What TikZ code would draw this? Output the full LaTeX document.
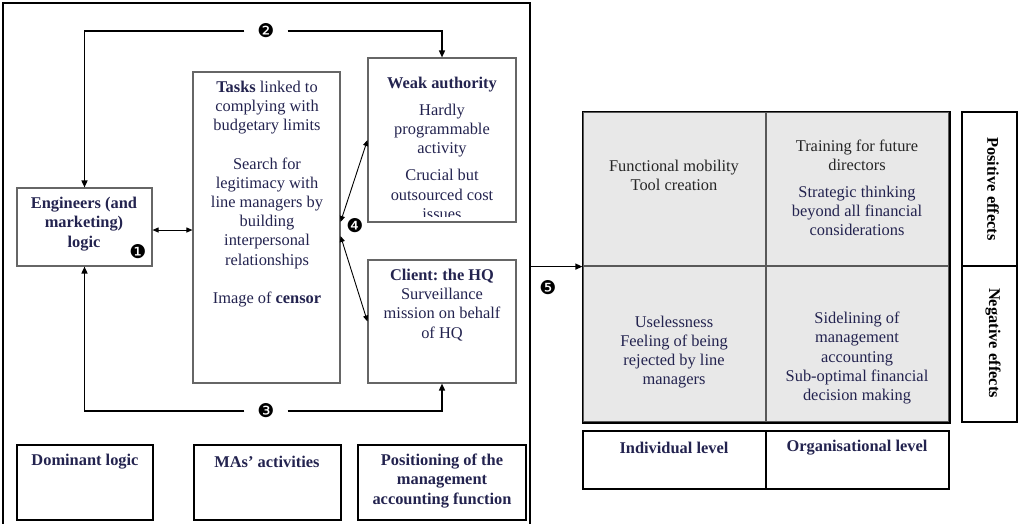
\documentclass[tikz,border=0pt]{standalone}
\usepackage{fontspec}
\setmainfont{Liberation Serif}
\newfontfamily\dingfont{DejaVu Sans}
\usepackage{tikz}
\usetikzlibrary{arrows.meta,calc}
\definecolor{navy}{HTML}{23234F}
\definecolor{cellgray}{HTML}{E8E8E8}
\frenchspacing

\begin{document}
\begin{tikzpicture}[
    x=1pt, y=-1pt,
    box/.style={draw=black!60, line width=1.1pt, inner sep=0pt},
    heavybox/.style={draw=black, line width=1.8pt, inner sep=0pt},
    cell/.style={draw=black!65, line width=1.2pt, fill=cellgray, inner sep=0pt},
    txt/.style={text=navy, align=center, inner sep=0pt, font=\fontsize{16.4}{19.2}\selectfont},
    num/.style={inner sep=3pt, font=\dingfont\fontsize{19}{19}\selectfont},
    link/.style={line width=1.5pt, -{Triangle[length=7pt,width=6pt]}},
    thinlink/.style={line width=0.9pt, {Triangle[length=6pt,width=5pt]}-{Triangle[length=6pt,width=5pt]}}
]
    \useasboundingbox (0,0) rectangle (1023,523);

    % --- Left panel ---
    \node[draw=black, line width=2.2pt, minimum width=527pt, minimum height=524pt] (frame) at (266.5,265) {};
    \node[box, minimum width=135pt, minimum height=78pt] (eng) at (84.5,227) {};
    \node[box, minimum width=147pt, minimum height=311pt] (tasks) at (266.5,227.5) {};
    \node[box, minimum width=148pt, minimum height=164pt] (weak) at (442,140) {};
    \node[box, minimum width=148pt, minimum height=123pt] (client) at (442,321.5) {};

    \node[txt, font=\fontsize{16.4}{19.2}\selectfont\bfseries] (engtxt) at (84,224) {Engineers (and\\marketing)\\logic};
    \node[num, inner sep=0pt] (n1) at (138,252) {❶};
    \node[txt] (taskstxt) at (267,194) {\textbf{Tasks} linked to\\complying with\\budgetary limits\\[19.2pt]Search for\\legitimacy with\\line managers by\\building\\interpersonal\\relationships\\[19.2pt]Image of \textbf{censor}};
    \begin{scope}
        \clip (weak.north west) rectangle ([yshift=6pt]weak.south east);
        \node[txt] (weaktxt) at (442,148) {\textbf{Weak authority}\\[8pt]Hardly\\programmable\\activity\\[8pt]Crucial but\\outsourced cost\\issues};
    \end{scope}
    \node[txt] (clienttxt) at (442,305) {\textbf{Client: the HQ}\\Surveillance\\mission on behalf\\of HQ};

    % Bottom captions
    \node[heavybox, minimum width=136pt, minimum height=75pt] (dom) at (85,482.5) {};
    \node[heavybox, minimum width=147pt, minimum height=75pt] (mas) at (267.5,482.5) {};
    \node[heavybox, minimum width=168pt, minimum height=75pt] (pos) at (442,482.5) {};
    \node[txt, font=\fontsize{16.4}{19.2}\selectfont\bfseries] (domtxt) at (85,462) {Dominant logic};
    \node[txt, font=\fontsize{16.4}{19.2}\selectfont\bfseries] (mastxt) at (267,462) {MAs’ activities};
    \node[txt, font=\fontsize{16.4}{19.2}\selectfont\bfseries] (postxt) at (442,481) {Positioning of the\\management\\accounting function};

    % Connectors
    \node[num, inner ysep=5pt, inner xsep=13pt] (n2) at (266,31) {❷};
    \node[num, inner ysep=5pt, inner xsep=13pt] (n3) at (266,411) {❸};
    \draw[link] (n2.west) -| (eng.north);
    \draw[link] (n2.east) -| (weak.north);
    \draw[link] (n3.west) -| (eng.south);
    \draw[link] (n3.east) -| (client.south);
    \draw[thinlink] ([yshift=-3pt]eng.east) -- ([yshift=-3pt]tasks.west |- eng.east);
    \draw[thinlink] ([yshift=5.5pt]tasks.east) -- (weak.west);
    \draw[thinlink] ([yshift=-8.5pt]tasks.east) -- (client.west);
    \node[num, inner sep=0pt] (n4) at (355,226) {❹};

    % --- Right panel: effects matrix ---
    \node[cell, minimum width=183pt, minimum height=154pt] (g11) at (674.5,189) {};
    \node[cell, minimum width=183pt, minimum height=154pt] (g12) at (857.5,189) {};
    \node[cell, minimum width=183pt, minimum height=156pt] (g21) at (674.5,344) {};
    \node[cell, minimum width=183pt, minimum height=156pt] (g22) at (857.5,344) {};
    \draw[black, line width=1.8pt] (g11.north west) rectangle (g22.south east);

    \node[txt, text=black!85] (g11txt) at (674,175.5) {Functional mobility\\Tool creation};
    \node[txt, text=black!85] (g12txt) at (857,155.5) {Training for future\\directors};
    \node[txt] (g12txtb) at (857,211) {Strategic thinking\\beyond all financial\\considerations};
    \node[txt] (g21txt) at (674,352) {Uselessness\\Feeling of being\\rejected by line\\managers};
    \node[txt] (g22txt) at (857,358) {Sidelining of\\management\\accounting\\Sub-optimal financial\\decision making};

    \node[heavybox, minimum width=183pt, minimum height=58pt] (ind) at (674.5,460) {};
    \node[heavybox, minimum width=183pt, minimum height=58pt] (org) at (857.5,460) {};
    \node[txt, font=\fontsize{16.4}{19.2}\selectfont\bfseries] (indtxt) at (674,448) {Individual level};
    \node[txt, font=\fontsize{16.4}{19.2}\selectfont\bfseries] (orgtxt) at (857,448) {Organisational level};

    \node[heavybox, minimum width=55pt, minimum height=154pt] (posfx) at (989.5,189) {};
    \node[heavybox, minimum width=55pt, minimum height=156pt] (negfx) at (989.5,344) {};
    \node[txt, text=black, rotate=-90, font=\fontsize{16.4}{19.2}\selectfont\bfseries] (posfxtxt) at (993,189) {Positive effects};
    \node[txt, text=black, rotate=-90, font=\fontsize{16.4}{19.2}\selectfont\bfseries] (negfxtxt) at (993,343) {Negative effects};

    \draw[link, line width=1.2pt] (frame.east |- g11.south west) -- (g11.south west);
    \node[num, inner sep=0pt] (n5) at (548,288) {❺};
\end{tikzpicture}
\end{document}
